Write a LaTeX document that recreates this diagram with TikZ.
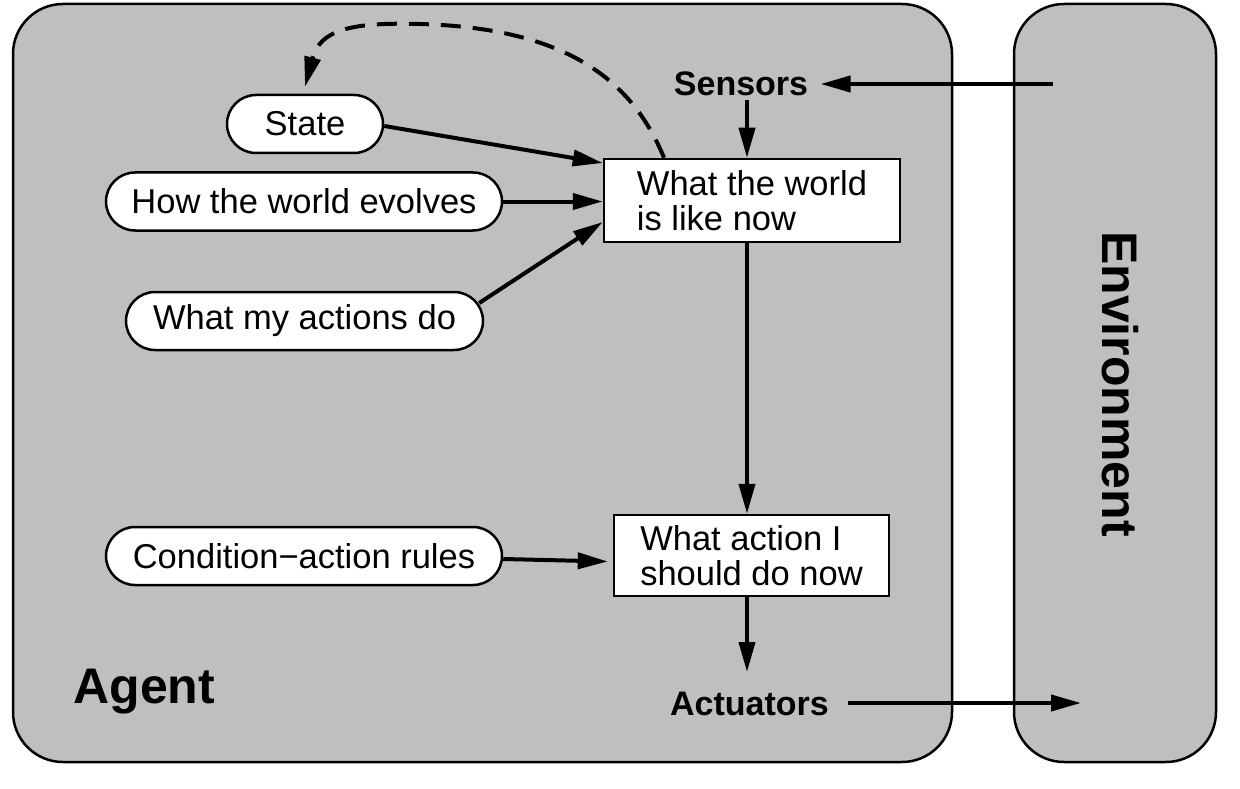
\documentclass[tikz,border=0pt]{standalone}
\usepackage{fontspec}
\setmainfont{Liberation Sans}
\usetikzlibrary{arrows.meta,calc}
\definecolor{agentgray}{RGB}{191,191,191}
\begin{document}
\begin{tikzpicture}[x=1pt,y=-1pt,
  every node/.style={font=\fontsize{34.5}{35}\selectfont},
  pill/.style={draw,fill=white,line width=2.5pt,rounded corners=29pt,minimum height=58pt,inner sep=0pt},
  infobox/.style={draw,fill=white,line width=2.5pt,minimum height=83pt,inner sep=0pt,align=left},
  arr/.style={line width=4pt,-{Triangle[length=30pt,width=16pt]}},
  outer/.style={draw,fill=agentgray,line width=2.5pt,rounded corners=50pt},
  lbl/.style={font=\fontsize{34}{35}\selectfont\bfseries},
  biglbl/.style={font=\fontsize{50}{50}\selectfont\bfseries}]
\useasboundingbox (0,0) rectangle (1240,789);
% outer boxes
\path[outer] (13,4) rectangle (952,762);
\path[outer] (1014,4) rectangle (1216,762);
% labels
\node[biglbl,anchor=base west] (agent) at (70,703) {Agent};
\node[biglbl,rotate=-90] (env) at (1120,384) {Environment};
\node[lbl,anchor=base] (sensors) at (741,96) {Sensors};
\node[lbl,anchor=base] (actuators) at (749.5,715) {Actuators};
% pills
\node[pill,minimum width=156pt] (state) at (305,124) {State};
\node[pill,minimum width=396pt] (evolves) at (304,201.5) {How the world evolves};
\node[pill,minimum width=357pt] (actions) at (304.5,321) {What my actions do};
\node[pill,minimum width=396pt] (rules) at (304,556) {Condition−action rules};
% boxes
\node[infobox,minimum width=296pt] (world) at (752,200.5) {What the world\hspace{4pt}\\is like now};
\node[infobox,minimum width=275pt,minimum height=81pt] (act) at (751.5,555.5) {What action I\\should do now};
% helper coordinates
\coordinate (wtop) at ([xshift=-5pt]world.north);
\coordinate (wl1) at ([yshift=-21.5pt]world.west);
\coordinate (wl0) at ([yshift=37.5pt]world.west);
\coordinate (envs) at (1053,84);
\coordinate (enva) at (1081,703);
\coordinate (acttip) at (747,672);
\coordinate (dstart) at ([xshift=-88pt]world.north);
\coordinate (dend) at ([yshift=7pt]state.north);
% connectors
\draw[arr] (envs) -- ([xshift=9pt]envs -| sensors.east);
\draw[arr] (sensors.south -| wtop) -- (wtop);
\draw[arr] ([yshift=-2pt]state.east) -- (wl0);
\draw[arr] (evolves.east) -- (evolves.east -| world.west);
\draw[arr] ([xshift=-5pt,yshift=18pt]actions.east) -- (wl1);
\draw[arr] (world.south -| wtop) -- (act.north -| wtop);
\draw[arr] (act.south -| wtop) -- (acttip);
\draw[arr] ([yshift=-3pt]rules.east) -- ([yshift=-6pt,xshift=-5pt]act.west);
\draw[arr] (actuators.east |- enva) ++(16,0) coordinate (astart) -- (enva);
\draw[line width=4pt,dash pattern=on 20pt off 12pt,-{Triangle[length=30pt,width=16pt]}]
  (dstart) .. controls (630,75) and (560,28) .. (420,24)
  .. controls (350,22) and (320,30) .. (dend);
\end{tikzpicture}
\end{document}
